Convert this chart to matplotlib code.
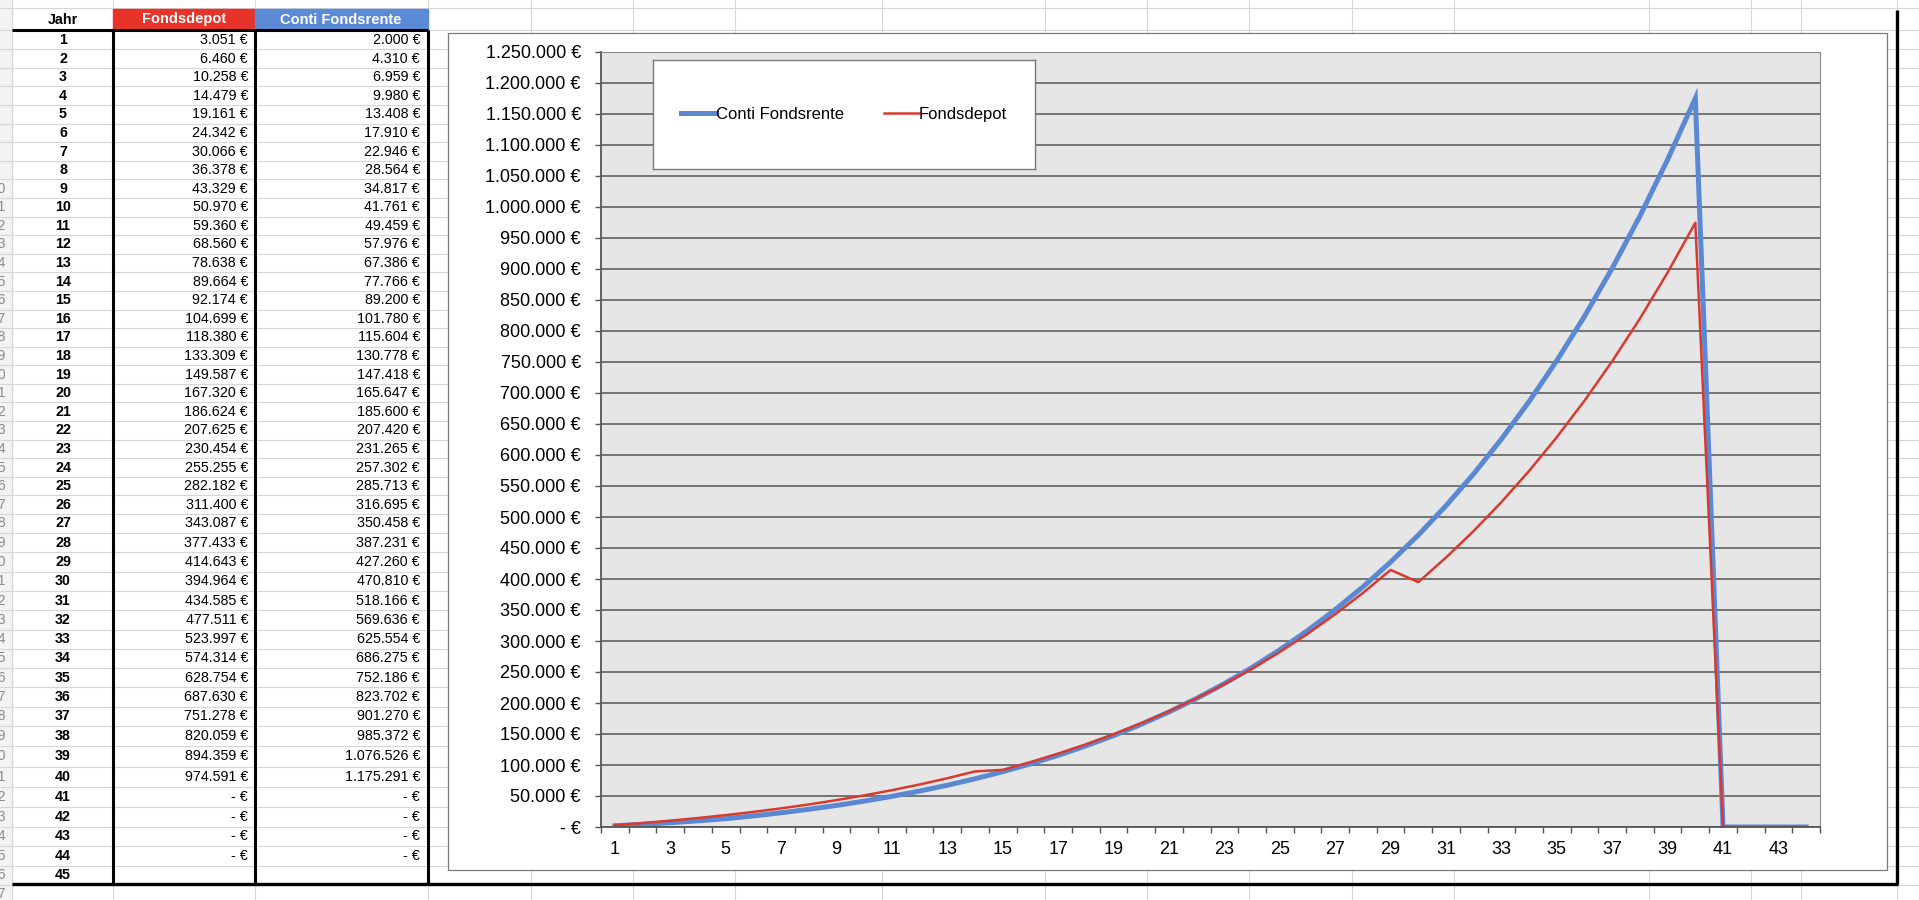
import numpy as np
import matplotlib
matplotlib.use("Agg")
import matplotlib.pyplot as plt
from matplotlib.patches import Rectangle
from matplotlib.ticker import FuncFormatter, MultipleLocator, FixedLocator

plt.rcParams['font.family'] = ['Liberation Sans', 'DejaVu Sans']

# data from the table
jahr = list(range(1, 46))
fondsdepot = [3051, 6460, 10258, 14479, 19161, 24342, 30066, 36378, 43329, 50970,
              59360, 68560, 78638, 89664, 92174, 104699, 118380, 133309, 149587, 167320,
              186624, 207625, 230454, 255255, 282182, 311400, 343087, 377433, 414643, 394964,
              434585, 477511, 523997, 574314, 628754, 687630, 751278, 820059, 894359, 974591,
              0, 0, 0, 0]
conti = [2000, 4310, 6959, 9980, 13408, 17910, 22946, 28564, 34817, 41761,
         49459, 57976, 67386, 77766, 89200, 101780, 115604, 130778, 147418, 165647,
         185600, 207420, 231265, 257302, 285713, 316695, 350458, 387231, 427260, 470810,
         518166, 569636, 625554, 686275, 752186, 823702, 901270, 985372, 1076526, 1175291,
         0, 0, 0, 0]

RED = '#d93a2f'
BLUE = '#5b88d3'
W, H = 1919, 900


def euro(v):
    if v == 0:
        return '- €'
    return f"{v:,.0f}".replace(',', '.') + ' €'


fig = plt.figure(figsize=(W / 100, H / 100), dpi=100)

# spreadsheet background in pixel coords
bg = fig.add_axes([0, 0, 1, 1])
bg.set_xlim(0, W)
bg.set_ylim(H, 0)
bg.axis('off')

# row centres (photo is slightly uneven, so piecewise)
rows = np.arange(1, 47)
centres = np.interp(rows, [1, 27, 38, 41, 45, 46], [40, 523.3, 735.7, 797.3, 875.3, 894])
bounds = [8, 29.5] + list((centres[:-1] + centres[1:]) / 2) + [903]

bg.add_patch(Rectangle((0, 0), 12, H, color='#f3f3f3', zorder=0))
for y in bounds:
    bg.hlines(y, 0, W, color='#d6d6d6', lw=0.8, zorder=1)
cols = [12, 113, 255, 428, 531, 633, 735, 882, 1045, 1147, 1249, 1352, 1454, 1649, 1751, 1801, 1897]
for x in cols:
    bg.vlines(x, 0, H, color='#d6d6d6', lw=0.8, zorder=1)

# row numbers, mostly cut off at the left edge
for r, c in zip(rows, centres):
    if r + 1 >= 10:
        bg.text(-2, c, str(r + 1), ha='center', va='center', fontsize=10, color='#8a8a8a', zorder=2)

# header
bg.add_patch(Rectangle((113, 9), 142, 20.5, color='#e8332a', zorder=2))
bg.add_patch(Rectangle((255, 9), 173, 20.5, color='#5b8bd6', zorder=2))
bg.text(63, 19.5, 'Jahr', ha='center', va='center', fontsize=10.3, fontweight='bold', zorder=3)
bg.text(184, 19.5, 'Fondsdepot', ha='center', va='center', fontsize=10.5, fontweight='bold',
        color='white', zorder=3)
bg.text(341, 19.5, 'Conti Fondsrente', ha='center', va='center', fontsize=10.5, fontweight='bold',
        color='white', zorder=3)

for i, j in enumerate(jahr):
    c = centres[i]
    bg.text(63, c, str(j), ha='center', va='center', fontsize=10.3, fontweight='bold', zorder=3)
    if i < len(fondsdepot):
        bg.text(248, c, euro(fondsdepot[i]), ha='right', va='center', fontsize=10.3, zorder=3)
        bg.text(420, c, euro(conti[i]), ha='right', va='center', fontsize=10.3, zorder=3)

# thick borders
bg.hlines(29.5, 12, 428, color='black', lw=2.2, zorder=4)
for x in [113, 255, 428]:
    bg.vlines(x, 29.5, 884, color='black', lw=2.2, zorder=4)
bg.hlines(884, 12, 1898, color='black', lw=2.4, zorder=4)
bg.vlines(1897, 10, 884, color='black', lw=2.4, zorder=4)

# chart frame
bg.add_patch(Rectangle((448, 33), 1439, 837, facecolor='white', edgecolor='#7a7a7a', lw=0.9, zorder=5))

# chart
ax = fig.add_axes([601 / W, 1 - 827 / H, 1219 / W, 775 / H])
ax.set_facecolor('#e6e6e6')
years = jahr[:len(conti)]
ax.plot(years, conti, color=BLUE, lw=3.6, label='Conti Fondsrente', solid_joinstyle='miter')
ax.plot(years, fondsdepot, color=RED, lw=1.8, label='Fondsdepot')
ax.set_xlim(0.5, len(years) + 0.5)
ax.set_ylim(0, 1250000)
ax.yaxis.set_major_locator(MultipleLocator(50000))
ax.yaxis.set_major_formatter(FuncFormatter(lambda v, p: euro(v)))
ax.grid(axis='y', color='#555555', lw=1.1)
ax.set_axisbelow(True)
ax.xaxis.set_major_locator(FixedLocator(years[::2]))
ax.xaxis.set_minor_locator(FixedLocator(np.arange(0.5, len(years) + 1, 1)))
ax.tick_params(axis='x', which='major', length=0, pad=10, labelsize=13)
ax.tick_params(axis='x', which='minor', length=4.5, width=1, color='#555555', direction='out')
ax.tick_params(axis='y', length=4.5, width=1, color='#555555', pad=10, labelsize=13)
for s in ['top', 'right']:
    ax.spines[s].set_color('#8a8a8a')
for s in ['left', 'bottom']:
    ax.spines[s].set_color('#555555')
    ax.spines[s].set_linewidth(1.3)

# legend box
lax = fig.add_axes([653 / W, 1 - 169 / H, 382 / W, 109 / H])
lax.set_xticks([])
lax.set_yticks([])
lax.set_facecolor('white')
for s in lax.spines.values():
    s.set_color('#7a7a7a')
    s.set_linewidth(1.0)
h, l = ax.get_legend_handles_labels()
lax.legend(h, l, loc='center', ncol=2, frameon=False, fontsize=12,
           handlelength=2.1, handletextpad=0.0, columnspacing=2.4)

fig.savefig('out.png', dpi=100, facecolor='white')
